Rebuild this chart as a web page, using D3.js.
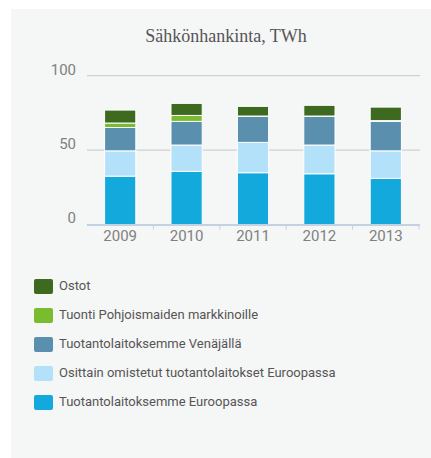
<!DOCTYPE html>
<html lang="fi">
<head>
    <meta charset="UTF-8">
    <title>Sähkönhankinta</title>
    <script src="https://cdn.jsdelivr.net/npm/d3@7/dist/d3.min.js"></script>
    <style>
        body { margin: 0; background: #ffffff; }
        text { font-family: Roboto, sans-serif; }
    </style>
</head>
<body>
<div id="main"></div>
<script>
    // data
    const years = ['2009', '2010', '2011', '2012', '2013'];
    const seriesNames = [
        'Tuotantolaitoksemme Euroopassa',
        'Osittain omistetut tuotantolaitokset Euroopassa',
        'Tuotantolaitoksemme Venäjällä',
        'Tuonti Pohjoismaiden markkinoille',
        'Ostot'
    ];
    const ownEurope   = [32.5, 35.7, 34.8, 34.1, 31.0];
    const partEurope  = [17.0, 17.7, 20.4, 19.3, 18.5];
    const russia      = [15.7, 15.9, 17.4, 19.2, 19.8];
    const imports     = [3.0, 4.0, 0.3, 0.3, 0.5];
    const purchases   = [8.7, 8.1, 6.5, 7.2, 9.1];
    const yTicks = [0, 50, 100];
    const colors = ['#13a9dc', '#b4e1fa', '#5b8fae', '#79bc2d', '#3d6a1f'];

    const W = 431, H = 458;
    const svg = d3.select('#main').append('svg')
        .attr('width', W).attr('height', H);

    // gray panel
    svg.append('rect')
        .attr('x', 11).attr('y', 9)
        .attr('width', W - 11).attr('height', H - 9)
        .attr('fill', '#f5f6f6');

    svg.append('text')
        .attr('x', 226).attr('y', 42)
        .attr('text-anchor', 'middle')
        .style('font-family', '"Liberation Serif", serif')
        .style('font-size', '18px')
        .attr('fill', '#555')
        .text('Sähkönhankinta, TWh');

    const table = years.map((y, i) => ({
        year: y,
        [seriesNames[0]]: ownEurope[i],
        [seriesNames[1]]: partEurope[i],
        [seriesNames[2]]: russia[i],
        [seriesNames[3]]: imports[i],
        [seriesNames[4]]: purchases[i]
    }));
    const stacked = d3.stack().keys(seriesNames)(table);

    const x = d3.scaleBand().domain(years).range([87, 419]).paddingInner(0.53).paddingOuter(0.265);
    const y = d3.scaleLinear().domain([0, 100]).range([224.5, 75.7]);

    // gridlines
    svg.selectAll('.grid')
        .data(yTicks.filter(d => d > 0))
        .enter().append('line')
        .attr('x1', 87).attr('x2', 420)
        .attr('y1', d => y(d)).attr('y2', d => y(d))
        .attr('stroke', '#c6c8c9').attr('stroke-width', 1);

    svg.selectAll('.ylab')
        .data(yTicks)
        .enter().append('text')
        .attr('x', 76).attr('y', d => y(d) - 5)
        .attr('text-anchor', 'end')
        .attr('dominant-baseline', 'middle')
        .style('font-size', '15px')
        .attr('fill', '#808080')
        .text(d => d);

    // bars
    svg.selectAll('.layer')
        .data(stacked)
        .enter().append('g')
        .attr('fill', (d, i) => colors[i])
        .selectAll('rect')
        .data(d => d)
        .enter().append('rect')
        .attr('x', d => x(d.data.year))
        .attr('width', x.bandwidth())
        .attr('y', d => y(d[1]))
        .attr('height', d => y(d[0]) - y(d[1]))
        .attr('stroke', '#ffffff')
        .attr('stroke-width', 1);

    // x axis
    svg.append('line')
        .attr('x1', 87).attr('x2', 420)
        .attr('y1', y(0) + 0.5).attr('y2', y(0) + 0.5)
        .attr('stroke', '#c3d2e1').attr('stroke-width', 2);

    const bounds = years.slice(1).map(yr => x(yr) - x.step() * x.paddingInner() / 2);
    bounds.push(419);
    svg.selectAll('.tick')
        .data(bounds)
        .enter().append('line')
        .attr('x1', d => d).attr('x2', d => d)
        .attr('y1', y(0)).attr('y2', y(0) + 5)
        .attr('stroke', '#c3d2e1').attr('stroke-width', 1);

    svg.selectAll('.xlab')
        .data(years)
        .enter().append('text')
        .attr('x', d => x(d) + x.bandwidth() / 2)
        .attr('y', 241)
        .attr('text-anchor', 'middle')
        .style('font-size', '15px')
        .attr('fill', '#808080')
        .text(d => d);

    // legend (top item = last series)
    const legend = svg.selectAll('.leg')
        .data(seriesNames.slice().reverse())
        .enter().append('g')
        .attr('transform', (d, i) => `translate(34, ${279 + i * 29})`);

    legend.append('rect')
        .attr('width', 19).attr('height', 15)
        .attr('rx', 2)
        .attr('fill', (d, i) => colors[colors.length - 1 - i]);

    legend.append('text')
        .attr('x', 25).attr('y', 8)
        .attr('dominant-baseline', 'middle')
        .style('font-size', '13px')
        .attr('fill', '#555')
        .text(d => d);
</script>
</body>
</html>
